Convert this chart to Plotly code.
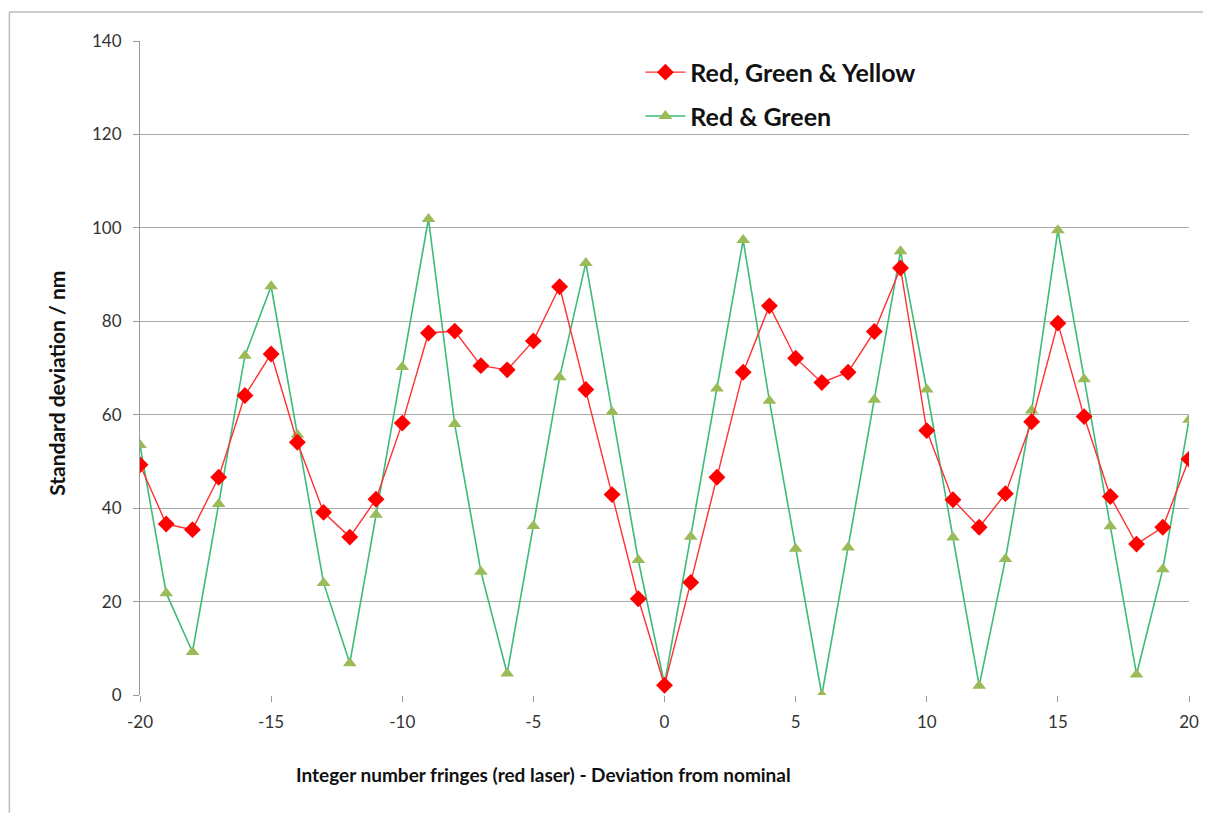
import plotly.graph_objects as go

x_vals = list(range(-20, 21))
rgy_vals = [49.3, 36.6, 35.4, 46.6, 64.1, 73.0, 54.1, 39.1, 33.8, 41.9, 58.2,
            77.5, 77.9, 70.5, 69.6, 75.8, 87.4, 65.4, 42.9, 20.6, 2.1,
            24.1, 46.6, 69.1, 83.3, 72.1, 66.9, 69.1, 77.8, 91.4, 56.6,
            41.8, 35.9, 43.1, 58.5, 79.6, 59.6, 42.5, 32.3, 35.9, 50.5]
rg_vals = [53.5, 21.8, 9.2, 40.9, 72.6, 87.5, 55.7, 24.0, 6.8, 38.6, 70.2,
           101.9, 58.0, 26.4, 4.6, 36.2, 68.0, 92.5, 60.6, 28.9, 2.3,
           33.9, 65.6, 97.4, 63.0, 31.3, 0.0, 31.6, 63.2, 95.0, 65.4,
           33.7, 2.0, 29.1, 60.9, 99.5, 67.6, 36.1, 4.4, 26.9, 58.9]
x_ticks = [-20, -15, -10, -5, 0, 5, 10, 15, 20]
x_tick_labels = ["-20", "-15", "-10", "-5", "0", "5", "10", "15", "20"]
y_ticks = [0, 20, 40, 60, 80, 100, 120, 140]

FONT = "Lato, 'Open Sans', sans-serif"

fig = go.Figure()
fig.add_trace(go.Scatter(
    x=x_vals, y=rg_vals, mode="lines+markers", name="Red & Green",
    line=dict(color="#3DBB7A", width=1.6),
    marker=dict(symbol="triangle-up", size=12, color="#9BBB59"),
    legend="legend2"))
fig.add_trace(go.Scatter(
    x=x_vals, y=rgy_vals, mode="lines+markers", name="Red, Green & Yellow",
    line=dict(color="#FF3030", width=1.4),
    marker=dict(symbol="diamond", size=13, color="#FF0000"),
    legend="legend"))

fig.update_layout(
    width=1203, height=805,
    margin=dict(l=132, r=20, t=33, b=118),
    showlegend=True,
    paper_bgcolor="white", plot_bgcolor="white",
    font=dict(family=FONT, size=17, color="#333"),
    legend=dict(x=0.477, y=0.952, xanchor="left", yanchor="middle",
                itemwidth=40, bgcolor="rgba(0,0,0,0)",
                font=dict(family=FONT, size=25, color="#111", weight="bold")),
    legend2=dict(x=0.477, y=0.885, xanchor="left", yanchor="middle",
                 itemwidth=40, bgcolor="rgba(0,0,0,0)",
                 font=dict(family=FONT, size=25, color="#111", weight="bold")),
    xaxis=dict(range=[-20, 20], tickvals=x_ticks, ticktext=x_tick_labels,
               showgrid=False, zeroline=False, showline=False,
               ticks="outside", ticklen=6, tickcolor="#999",
               ticklabelstandoff=6,
               tickfont=dict(size=17, color="#333")),
    yaxis=dict(range=[0, 140], tickvals=y_ticks, showgrid=True,
               gridcolor="#AAAAAA", gridwidth=1.2, zeroline=False,
               showline=True, linecolor="#999", linewidth=1.2,
               ticks="outside", ticklen=6, tickcolor="#999",
               ticklabelstandoff=8,
               tickfont=dict(size=17, color="#333")),
    annotations=[
        dict(text="<b>Integer number fringes (red laser) - Deviation from nominal</b>",
             xref="paper", yref="paper", x=0.385, y=-0.122, showarrow=False,
             xanchor="center", yanchor="middle",
             font=dict(family=FONT, size=19, color="#111")),
        dict(text="<b>Standard deviation / nm</b>",
             xref="paper", yref="paper", x=-0.079, y=0.476, showarrow=False,
             textangle=-90, xanchor="center", yanchor="middle",
             font=dict(family=FONT, size=21, color="#111")),
    ],
    shapes=[
        dict(type="line", xref="paper", yref="paper", x0=-0.1245, x1=1.02,
             y0=1.0443, y1=1.0443, line=dict(color="#BBBBBB", width=1.5)),
        dict(type="line", xref="paper", yref="paper", x0=-0.1245, x1=-0.1245,
             y0=1.0443, y1=-0.18, line=dict(color="#BBBBBB", width=1.5)),
    ],
)

fig.write_html("out.html")
